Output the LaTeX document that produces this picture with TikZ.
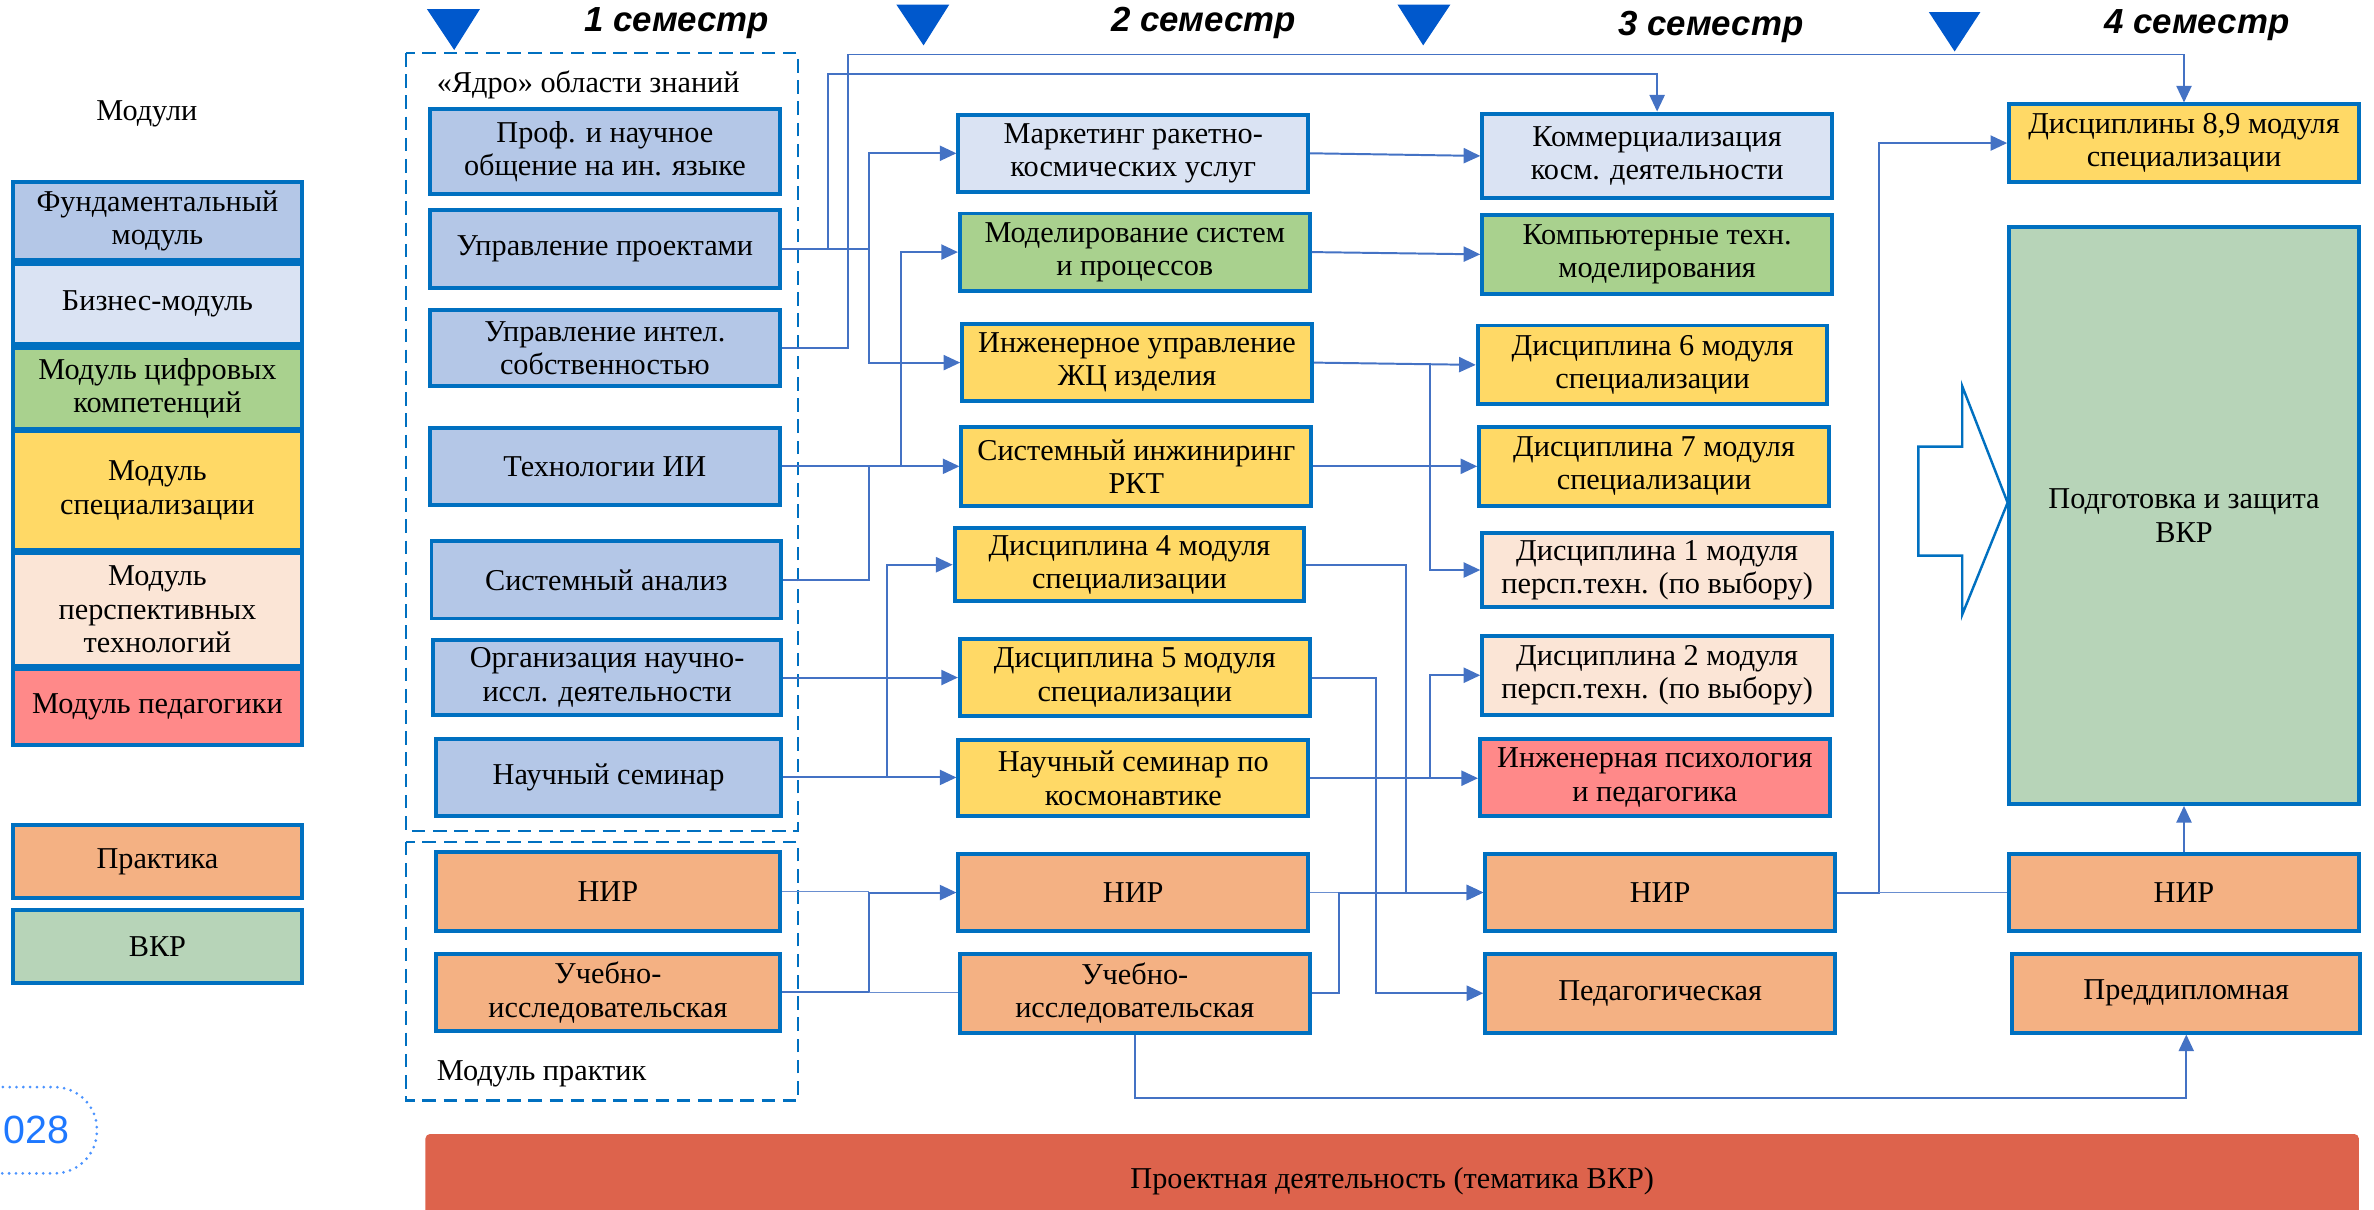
\documentclass[tikz,border=0pt]{standalone}
\usepackage{fontspec}
\setmainfont{Liberation Serif}
\newfontfamily\headfont{Liberation Sans}
\usetikzlibrary{arrows.meta}

\definecolor{bordercol}{RGB}{0,112,192}
\definecolor{lncol}{RGB}{68,114,196}
\definecolor{markcol}{RGB}{0,88,204}
\definecolor{fundcol}{RGB}{180,199,231}
\definecolor{bizcol}{RGB}{218,227,243}
\definecolor{digcol}{RGB}{169,209,142}
\definecolor{speccol}{RGB}{255,217,102}
\definecolor{perspcol}{RGB}{251,229,214}
\definecolor{pedcol}{RGB}{255,137,137}
\definecolor{praccol}{RGB}{244,177,131}
\definecolor{vkrcol}{RGB}{183,212,184}
\definecolor{projcol}{RGB}{221,99,76}
\definecolor{ovalcol}{RGB}{30,120,255}

\begin{document}
\begin{tikzpicture}[x=1pt,y=-1pt,
  txt/.style={font=\fontsize{20}{22}\selectfont, align=center},
  bx/.style={txt, draw=bordercol, line width=2.6pt, inner sep=1pt},
  cw/.style={minimum width=231pt},
  lgw/.style={minimum width=191pt},
  ln/.style={draw=lncol, line width=1.3pt},
  thinln/.style={draw=lncol!80, line width=0.8pt},
  arr/.style={ln, -{Triangle[length=11pt,width=10pt]}},
  dashbox/.style={draw=bordercol, line width=1.6pt, dash pattern=on 9pt off 5pt},
  semtitle/.style={font=\headfont\bfseries\itshape\fontsize{23}{26}\selectfont},
  marker/.style={fill=markcol}]

\useasboundingbox (0,0) rectangle (1568,799);

% ---------- legend ----------
\node[txt] (modtitle) at (97,75) {Модули};
\node[bx, lgw, fill=fundcol,  minimum height=52pt] (lgA) at (104,146)   {Фундаментальный\\модуль};
\node[bx, lgw, fill=bizcol,   minimum height=53pt] (lgB) at (104,201)   {Бизнес-модуль};
\node[bx, lgw, fill=digcol,   minimum height=53pt] (lgC) at (104,256.5) {Модуль цифровых\\компетенций};
\node[bx, lgw, fill=speccol,  minimum height=78pt] (lgD) at (104,324)   {Модуль\\специализации};
\node[bx, lgw, fill=perspcol, minimum height=75pt] (lgE) at (104,402.5) {Модуль\\перспективных\\технологий};
\node[bx, lgw, fill=pedcol,   minimum height=50pt] (lgF) at (104,467)   {Модуль педагогики};
\node[bx, lgw, fill=praccol,  minimum height=48pt] (lgG) at (104,569)   {Практика};
\node[bx, lgw, fill=vkrcol,   minimum height=48pt] (lgH) at (104,625)   {ВКР};

% page number badge
\draw[ovalcol!80, line width=2pt, dash pattern=on 0pt off 4.5pt, line cap=round, rounded corners=28pt]
  (-40,718) rectangle (64,775);
\node[font=\headfont\fontsize{26}{28}\selectfont, text=ovalcol] (pagenum) at (24,746) {028};

% ---------- semester markers ----------
\fill[marker] (282,6) -- (317,6) -- (300,33) -- cycle;
\fill[marker] (592,3) -- (627,3) -- (610,30) -- cycle;
\fill[marker] (923,3) -- (958,3) -- (940,30) -- cycle;
\fill[marker] (1274,8) -- (1308,8) -- (1291,34) -- cycle;
\node[semtitle] (s1) at (447,15.5) {1 семестр};
\node[semtitle] (s2) at (795,15)   {2 семестр};
\node[semtitle] (s3) at (1130,18)  {3 семестр};
\node[semtitle] (s4) at (1451,16.5) {4 семестр};

% ---------- first-semester groups ----------
\draw[dashbox] (268,35) rectangle (527,549);
\draw[dashbox] (268,556) rectangle (527,727);
\node[txt, anchor=west] (coretitle) at (285,56) {«Ядро» области знаний};
\node[txt, anchor=west] (practitle) at (285,709) {Модуль практик};

% ---------- column 1 ----------
\node[bx, cw, fill=fundcol, minimum height=56pt] (c1a) at (399.5,100)   {Проф. и научное\\общение на ин. языке};
\node[bx, cw, fill=fundcol, minimum height=51pt] (c1b) at (399.5,164.5) {Управление проектами};
\node[bx, cw, fill=fundcol, minimum height=50pt] (c1c) at (399.5,230)   {Управление интел.\\собственностью};
\node[bx, cw, fill=fundcol, minimum height=51pt] (c1d) at (399.5,308)   {Технологии ИИ};
\node[bx, cw, fill=fundcol, minimum height=51pt] (c1e) at (400.5,383)   {Системный анализ};
\node[bx, minimum width=230pt, fill=fundcol, minimum height=49pt] (c1f) at (401,447.5) {Организация научно-\\иссл. деятельности};
\node[bx, minimum width=228pt, fill=fundcol, minimum height=51pt] (c1g) at (402,513.5) {Научный семинар};
\node[bx, minimum width=227pt, fill=praccol, minimum height=52pt] (c1h) at (401.5,589)   {НИР};
\node[bx, minimum width=227pt, fill=praccol, minimum height=51pt] (c1i) at (401.5,655.5) {Учебно-\\исследовательская};

% ---------- column 2 ----------
\node[bx, cw, fill=bizcol,  minimum height=51pt] (c2a) at (748.5,101.25) {Маркетинг ракетно-\\космических услуг};
\node[bx, cw, fill=digcol,  minimum height=51pt] (c2b) at (749.5,166.5)  {Моделирование систем\\и процессов};
\node[bx, cw, fill=speccol, minimum height=51pt] (c2c) at (751,239.5)    {Инженерное управление\\ЖЦ изделия};
\node[bx, cw, fill=speccol, minimum height=52pt] (c2d) at (750.5,308)    {Системный инжиниринг\\РКТ};
\node[bx, cw, fill=speccol, minimum height=48pt] (c2e) at (746,373)      {Дисциплина 4 модуля\\специализации};
\node[bx, cw, fill=speccol, minimum height=51pt] (c2f) at (749.5,447.5)  {Дисциплина 5 модуля\\специализации};
\node[bx, cw, fill=speccol, minimum height=50pt] (c2g) at (748.5,514)    {Научный семинар по\\космонавтике};
\node[bx, cw, fill=praccol, minimum height=51pt] (c2h) at (748.5,589.5)  {НИР};
\node[bx, cw, fill=praccol, minimum height=52pt] (c2i) at (749.5,656)    {Учебно-\\исследовательская};

% ---------- column 3 ----------
\node[bx, cw, fill=bizcol,   minimum height=56pt] (c3a) at (1094.5,103)   {Коммерциализация\\косм. деятельности};
\node[bx, cw, fill=digcol,   minimum height=52pt] (c3b) at (1094.5,168)   {Компьютерные техн.\\моделирования};
\node[bx, cw, fill=speccol,  minimum height=52pt] (c3c) at (1091.5,241)   {Дисциплина 6 модуля\\специализации};
\node[bx, cw, fill=speccol,  minimum height=52pt] (c3d) at (1092.5,308)   {Дисциплина 7 модуля\\специализации};
\node[bx, cw, fill=perspcol, minimum height=49pt] (c3e) at (1094.5,376.5) {Дисциплина 1 модуля\\персп.техн. (по выбору)};
\node[bx, cw, fill=perspcol, minimum height=52pt] (c3f) at (1094.5,446)   {Дисциплина 2 модуля\\персп.техн. (по выбору)};
\node[bx, cw, fill=pedcol,   minimum height=51pt] (c3g) at (1093,513.5)   {Инженерная психология\\и педагогика};
\node[bx, cw, fill=praccol,  minimum height=51pt] (c3h) at (1096.5,589.5) {НИР};
\node[bx, cw, fill=praccol,  minimum height=52pt] (c3i) at (1096.5,656)   {Педагогическая};

% ---------- column 4 ----------
\draw[bordercol, line width=1.6pt, fill=white]
  (1267,295) -- (1296,295) -- (1296,255) -- (1326,332) -- (1296,406) -- (1296,367) -- (1267,367) -- cycle;
\node[bx, cw, fill=speccol, minimum height=51pt]  (c4a) at (1442.5,94.5)  {Дисциплины 8,9 модуля\\специализации};
\node[bx, cw, fill=vkrcol,  minimum height=381pt] (c4b) at (1442.5,340.5) {Подготовка и защита\\ВКР};
\node[bx, cw, fill=praccol, minimum height=51pt]  (c4c) at (1442.5,589.5) {НИР};
\node[bx, minimum width=230pt, fill=praccol, minimum height=52pt] (c4d) at (1444,656) {Преддипломная};

% ---------- project strip ----------
\node[txt, fill=projcol, rounded corners=3pt, minimum width=1277pt, minimum height=62pt, inner sep=0pt]
  (proj) at (919.5,780) {Проектная деятельность (тематика ВКР)};

% ---------- routing guides ----------
\coordinate (xa) at (547,0);
\coordinate (xb) at (560,0);
\coordinate (xc) at (574,0);
\coordinate (xf) at (586,0);
\coordinate (xd) at (595,0);
\coordinate (xj) at (884.5,0);
\coordinate (xi) at (909,0);
\coordinate (xh) at (928.5,0);
\coordinate (xg) at (944.5,0);
\coordinate (xk) at (1241,0);
\coordinate (ya) at (0,36);
\coordinate (yb) at (0,49);
\coordinate (yc) at (0,725);

% ---------- semester 1 -> later ----------
\draw[arr] (c1c.east) -| (xb |- ya) -| (c4a.north);
\draw[arr] (c1b.east) -| (xa |- yb) -| (c3a.north);
\draw[arr] (c1b.east) -| (xc |- c2a.west) -- (c2a.west);
\draw[arr] (c1b.east) -| (xc |- c2c.west) -- (c2c.west);
\draw[arr] (c1d.east) -- (c1d.east -| c2d.west);
\draw[arr] (c1d.east) -| (xd |- c2b.west) -- (c2b.west);
\draw[ln]  (c1e.east) -| (xc |- c1d.east);
\draw[arr] (c1f.east) -- (c1f.east -| c2f.west);
\draw[arr] (c1g.east) -- (c1g.east -| c2g.west);
\draw[arr] (c1g.east) -| (xf |- c2e.west) -- (c2e.west);
\draw[thinln] (c1h.east) -- (c1h.east -| xc);
\draw[arr] (c1i.east) -| (xc |- c2h.west) -- (c2h.west);
\draw[thinln] (c1i.east -| xc) -- (c1i.east -| c2i.west);

% ---------- semester 2 -> 3 ----------
\draw[arr] (c2a.east) -- (c3a.west);
\draw[arr] (c2b.east) -- (c3b.west);
\draw[arr] (c2c.east) -- (c3c.west);
\draw[arr] (c2c.east -| xg) |- (c3e.west);
\draw[arr] (c2d.east) -- (c2d.east -| c3d.west);
\draw[arr] (c2e.east) -| (xh |- c3h.west) -- (c3h.west);
\draw[arr] (c2f.east) -| (xi |- c3i.west) -- (c3i.west);
\draw[arr] (c2g.east) -- (c2g.east -| c3g.west);
\draw[arr] (c2g.east -| xg) |- (c3f.west);
\draw[thinln] (c2h.east) -- (c2h.east -| xj);
\draw[arr] (c2i.east) -| (xj |- c3h.west) -- (c3h.west);
\draw[arr] (c2i.south) |- (c4d.south |- yc) -- (c4d.south);

% ---------- semester 3 -> 4 ----------
\draw[arr] (c3h.east) -| (xk |- c4a.west) -- (c4a.west);
\draw[thinln] (c3h.east -| xk) -- (c3h.east -| c4c.west);
\draw[arr] (c4c.north) -- (c4b.south);

\end{tikzpicture}
\end{document}
